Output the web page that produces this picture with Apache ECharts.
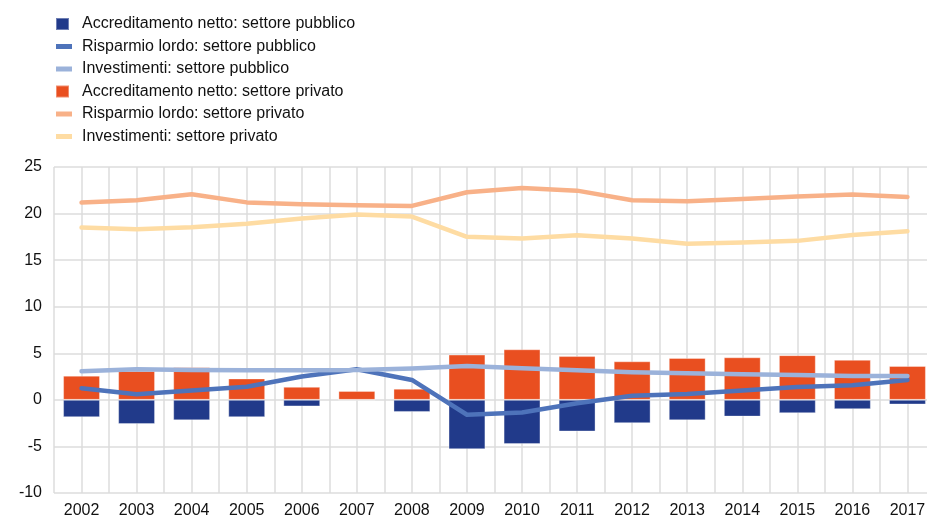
<!DOCTYPE html>
<html>
<head>
<meta charset="utf-8">
<script src="https://cdn.jsdelivr.net/npm/echarts@6/dist/echarts.min.js"></script>
<style>
  html, body { margin: 0; padding: 0; background: #fff; }
  #chart { width: 927px; height: 518px; }
</style>
</head>
<body>
<div id="chart"></div>
<script>
const years = ['2002', '2003', '2004', '2005', '2006', '2007', '2008', '2009',
  '2010', '2011', '2012', '2013', '2014', '2015', '2016', '2017']

// accreditamento netto (barre)
const accrPubblico = [-1.86, -2.6, -2.2, -1.86, -0.7, 0, -1.3, -5.3,
  -4.75, -3.4, -2.5, -2.2, -1.8, -1.43, -1.0, -0.5]
const accrPrivato = [2.6, 3.1, 3.5, 2.3, 1.4, 0.96, 1.2, 4.86,
  5.43, 4.7, 4.14, 4.5, 4.57, 4.8, 4.3, 3.64]

// linee
const rispPubblico = [1.25, 0.6, 1.0, 1.4, 2.5, 3.29, 2.14, -1.6,
  -1.36, -0.36, 0.43, 0.64, 1.0, 1.39, 1.57, 2.14]
const invPubblico = [3.07, 3.29, 3.2, 3.18, 3.18, 3.2, 3.36, 3.64,
  3.39, 3.18, 2.96, 2.86, 2.75, 2.68, 2.57, 2.57]
const rispPrivato = [21.18, 21.43, 22.07, 21.2, 21.0, 20.9, 20.82, 22.29,
  22.75, 22.46, 21.43, 21.32, 21.57, 21.82, 22.04, 21.79]
const invPrivato = [18.5, 18.32, 18.54, 18.9, 19.46, 19.9, 19.68, 17.5,
  17.32, 17.68, 17.32, 16.75, 16.9, 17.07, 17.71, 18.1]

const yTicks = { min: -10, max: 25, interval: 5 }

const colors = {
  accrPub: '#213a8a',
  rispPub: '#4e73ba',
  invPub: '#9bb2da',
  accrPriv: '#e94f20',
  rispPriv: '#f8b188',
  invPriv: '#fedca3'
}

const font = 'Liberation Sans, Arial, sans-serif'
const gridColor = '#dcdcdc'

// icone della legenda: quadrato per le barre, trattino spesso per le linee
const squareIcon = 'path://M0,0 L13,0 L13,12 L0,12 Z M16,0'
const dashIcon = 'path://M0,0 M0,12 M0,3.5 L16,3.5 L16,8.5 L0,8.5 Z'

const chart = echarts.init(document.getElementById('chart'))

function lineSeries(name, data, color) {
  return {
    name: name,
    type: 'line',
    data: data,
    symbol: 'none',
    z: 3,
    lineStyle: { color: color, width: 4.5, cap: 'round', join: 'round' },
    itemStyle: { color: color }
  }
}

function barSeries(name, data, color) {
  return {
    name: name,
    type: 'bar',
    stack: 'accr',
    barWidth: '67%',
    data: data,
    itemStyle: { color: color, borderColor: 'rgba(255,255,255,0.35)', borderWidth: 1 }
  }
}

chart.setOption({
  animation: false,
  textStyle: { fontFamily: font },
  legend: {
    orient: 'vertical',
    left: 50,
    top: 11,
    itemWidth: 16,
    itemHeight: 12,
    itemGap: 6.5,
    textStyle: { fontSize: 16, color: '#111', fontFamily: font, padding: [0, 0, 0, 5] },
    data: [
      { name: 'Accreditamento netto: settore pubblico', icon: squareIcon },
      { name: 'Risparmio lordo: settore pubblico', icon: dashIcon },
      { name: 'Investimenti: settore pubblico', icon: dashIcon },
      { name: 'Accreditamento netto: settore privato', icon: squareIcon },
      { name: 'Risparmio lordo: settore privato', icon: dashIcon },
      { name: 'Investimenti: settore privato', icon: dashIcon }
    ]
  },
  grid: {
    left: 54,
    top: 167,
    bottom: 25,
    width: 881,
    outerBoundsMode: 'none'
  },
  xAxis: [
    {
      type: 'category',
      data: years,
      boundaryGap: true,
      axisLine: { show: false },
      axisTick: { show: false },
      splitLine: { show: false },
      axisLabel: { fontSize: 16, color: '#111', margin: 10, interval: 0 }
    },
    {
      // solo griglia verticale (bordi e centri delle categorie)
      type: 'value',
      min: -0.5,
      max: 15.5,
      interval: 0.5,
      position: 'bottom',
      axisLine: { show: false },
      axisTick: { show: false },
      axisLabel: { show: false },
      splitLine: { show: true, lineStyle: { color: gridColor, width: 1.5 } }
    }
  ],
  yAxis: {
    type: 'value',
    min: yTicks.min,
    max: yTicks.max,
    interval: yTicks.interval,
    axisLine: { show: false },
    axisTick: { show: false },
    axisLabel: { fontSize: 16, color: '#111', margin: 12 },
    splitLine: { show: true, lineStyle: { color: gridColor, width: 1.5 } }
  },
  series: [
    barSeries('Accreditamento netto: settore pubblico', accrPubblico, colors.accrPub),
    lineSeries('Risparmio lordo: settore pubblico', rispPubblico, colors.rispPub),
    lineSeries('Investimenti: settore pubblico', invPubblico, colors.invPub),
    barSeries('Accreditamento netto: settore privato', accrPrivato, colors.accrPriv),
    lineSeries('Risparmio lordo: settore privato', rispPrivato, colors.rispPriv),
    lineSeries('Investimenti: settore privato', invPrivato, colors.invPriv)
  ]
})
</script>
</body>
</html>
